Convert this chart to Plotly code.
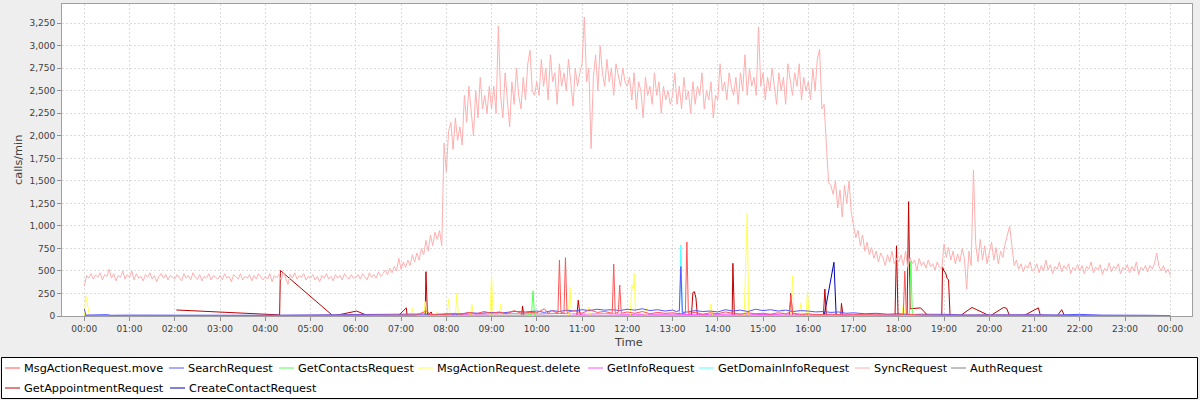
import pandas as pd
import plotly.graph_objects as go

# one day of request counts (calls/min)
DAY = pd.Timestamp("2012-06-13")

series_names = [
    "MsgActionRequest.move", "SearchRequest", "GetContactsRequest",
    "MsgActionRequest.delete", "GetInfoRequest", "GetDomainInfoRequest",
    "SyncRequest", "AuthRequest", "GetAppointmentRequest", "CreateContactRequest",
]
# JFreeChart default paint sequence
series_colors = [
    "#FF5555", "#5555FF", "#55FF55", "#FFFF55", "#FF55FF", "#55FFFF",
    "#FFAFAF", "#808080", "#C00000", "#0000C0",
]

# SyncRequest, one value every 3 minutes (20 per hour), 00:00 .. 24:00
sync_values = [
    330, 450, 420, 470, 410, 455, 430, 480, 400, 460, 440, 520, 420, 470, 390, 450, 430, 500, 410, 460,
    430, 500, 400, 470, 420, 440, 390, 460, 430, 480, 410, 450, 380, 440, 470, 420, 460, 400, 450, 430,
    410, 460, 430, 390, 470, 420, 450, 400, 480, 430, 410, 460, 390, 440, 420, 470, 400, 450, 430, 410,
    450, 400, 470, 420, 440, 380, 460, 430, 410, 470, 400, 440, 420, 460, 390, 450, 410, 470, 430, 400,
    440, 410, 470, 380, 450, 420, 460, 400, 490, 430, 350, 460, 420, 480, 410, 450, 430, 470, 400, 440,
    420, 460, 400, 440, 380, 450, 420, 470, 410, 440, 390, 460, 420, 450, 400, 470, 430, 410, 460, 420,
    430, 460, 410, 470, 440, 400, 480, 430, 460, 420, 490, 440, 470, 510, 460, 530, 480, 550, 500, 640,
    520, 600, 540, 620, 560, 680, 600, 700, 620, 750, 680, 840, 720, 900, 780, 930, 850, 950, 780, 1920,
    1600, 2050, 2150, 1850, 2200, 1950, 2100, 1900, 2450, 2150, 2550, 2300, 2000, 2500, 2200, 2650, 2300, 2450, 2250, 2550,
    2300, 2550, 2250, 3220, 2450, 2200, 2700, 2400, 2100, 2600, 2350, 2750, 2450, 2300, 2650, 2400, 2800, 2950, 2500, 2450,
    2600, 2450, 2850, 2550, 2750, 2400, 2900, 2600, 2700, 2350, 2800, 2550, 2700, 2500, 2850, 2600, 2330, 2750, 2550, 2700,
    2800, 3320, 2600, 2750, 1860, 2650, 2900, 2500, 3000, 2700, 2550, 2850, 2600, 2750, 2450, 2800, 2650, 2550, 2750, 2600,
    2550, 2650, 2400, 2700, 2300, 2600, 2500, 2200, 2650, 2450, 2550, 2350, 2700, 2450, 2600, 2250, 2550, 2400, 2500, 2350,
    2450, 2700, 2350, 2550, 2300, 2650, 2400, 2500, 2250, 2600, 2350, 2550, 2450, 2700, 2300, 2500, 2400, 2600, 2200, 2450,
    2400, 2800, 2500, 2600, 2400, 2700, 2550, 2450, 2650, 2350, 2700, 2500, 2900, 2450, 2750, 2550, 2650, 2450, 3210, 2550,
    2700, 2400, 2650, 2500, 2750, 2550, 2350, 2700, 2500, 2650, 2350, 2800, 2600, 2450, 2700, 2550, 2800, 2400, 2650, 2500,
    2600, 2400, 2750, 2500, 2850, 2960, 2300, 2350, 1900, 1480, 1450, 1350, 1500, 1200, 1400, 1100, 1450, 1250, 1500, 1150,
    1000, 870, 950, 780, 900, 720, 820, 680, 760, 640, 720, 600, 700, 650, 560, 680, 600, 720, 580, 640,
    600, 680, 560, 720, 540, 650, 580, 620, 500, 640, 560, 600, 530, 620, 550, 580, 510, 600, 540, 520,
    800, 650, 760, 620, 720, 580, 690, 600, 750, 640, 300, 720, 560, 1620, 800, 600, 850, 620, 780, 580,
    700, 820, 620, 760, 580, 720, 650, 800, 900, 1000, 780, 560, 620, 520, 580, 490, 560, 530, 600, 500,
    520, 580, 480, 560, 500, 620, 510, 570, 470, 550, 520, 600, 490, 560, 520, 580, 470, 540, 510, 570,
    500, 560, 470, 550, 520, 600, 480, 540, 510, 570, 460, 530, 500, 590, 490, 550, 520, 580, 470, 540,
    510, 570, 480, 550, 500, 600, 460, 540, 510, 560, 490, 560, 520, 580, 700, 550, 500, 560, 480, 520,
    450,
]

# the other series are sparse: sample times and values
move_times = [
    "00:00", "01:30", "03:00", "04:30", "06:00", "07:00", "07:20", "07:35", "07:37", "07:50",
    "08:00", "08:10", "08:20", "08:30", "08:40", "08:50", "09:00", "09:10", "09:20", "09:30",
    "09:40", "09:50", "10:00", "10:10", "10:15", "10:20", "10:28", "10:30", "10:32", "10:36",
    "10:38", "10:40", "10:50", "11:00", "11:10", "11:20", "11:30", "11:40", "11:42", "11:44",
    "11:48", "11:50", "11:52", "12:00", "12:10", "12:20", "12:30", "12:40", "12:50", "13:00",
    "13:10", "13:17", "13:19", "13:21", "13:30", "13:40", "13:50", "14:00", "14:10", "14:20",
    "14:30", "14:40", "14:50", "15:00", "15:10", "15:20", "15:30", "15:35", "15:37", "15:39",
    "15:50", "16:00", "16:10", "16:30", "16:50", "17:00", "17:30", "17:55", "18:00", "18:06",
    "18:08", "18:10", "18:30", "19:00", "20:00", "21:00", "22:00", "23:00", "24:00",
]
move_values = [
    0, 2, 1, 3, 2, 5, 10, 60, 15, 20,
    15, 30, 20, 40, 25, 50, 30, 45, 25, 60,
    30, 40, 35, 80, 30, 60, 30, 620, 40, 30,
    648, 40, 60, 30, 70, 40, 50, 30, 577, 30,
    40, 344, 30, 45, 30, 50, 25, 40, 30, 35,
    25, 30, 822, 30, 40, 20, 35, 25, 45, 30,
    20, 35, 25, 30, 20, 35, 25, 40, 230, 30,
    20, 25, 15, 20, 10, 15, 10, 5, 10, 20,
    500, 20, 10, 8, 10, 8, 5, 5, 3,
]

search_times = [
    "00:00", "00:02", "00:30", "00:35", "01:00", "02:00", "03:00", "04:00", "05:00", "05:30",
    "06:00", "06:30", "07:00", "07:30", "07:45", "08:00", "08:15", "08:30", "08:45", "09:00",
    "09:15", "09:30", "09:45", "10:00", "10:10", "10:20", "10:30", "10:40", "10:50", "11:00",
    "11:10", "11:20", "11:30", "11:40", "11:50", "12:00", "12:10", "12:20", "12:30", "12:40",
    "12:50", "13:00", "13:05", "13:09", "13:11", "13:13", "13:20", "13:30", "13:40", "13:50",
    "14:00", "14:10", "14:20", "14:30", "14:40", "14:50", "15:00", "15:10", "15:20", "15:30",
    "15:40", "15:50", "16:00", "16:10", "16:20", "16:30", "16:40", "16:50", "17:00", "17:15",
    "17:30", "17:45", "18:00", "18:15", "18:30", "18:45", "19:00", "19:30", "20:00", "20:30",
    "21:00", "21:30", "22:00", "22:30", "23:00", "23:30", "24:00",
]
search_values = [
    80, 10, 15, 8, 10, 8, 10, 8, 12, 15,
    12, 15, 18, 22, 15, 25, 20, 35, 30, 40,
    35, 50, 45, 55, 40, 60, 50, 65, 55, 70,
    60, 75, 65, 70, 60, 75, 65, 80, 60, 70,
    55, 65, 50, 60, 548, 40, 45, 60, 50, 55,
    45, 70, 55, 65, 50, 75, 60, 70, 55, 65,
    50, 60, 55, 45, 50, 40, 45, 30, 35, 25,
    30, 20, 25, 15, 20, 15, 18, 12, 15, 10,
    15, 12, 18, 10, 12, 8, 5,
]

contacts_times = [
    "00:00", "06:00", "07:30", "09:00", "09:45", "09:53", "09:55", "09:57", "10:30", "12:00",
    "14:00", "16:00", "18:00", "18:14", "18:16", "18:18", "19:00", "22:00", "24:00",
]
contacts_values = [0, 1, 3, 5, 8, 20, 280, 8, 5, 6, 4, 5, 3, 10, 610, 8, 3, 2, 1]

delete_times = [
    "00:00", "00:02", "00:07", "07:13", "07:15", "07:17", "07:30", "07:32", "07:34", "07:46",
    "07:48", "07:50", "08:01", "08:03", "08:05", "08:12", "08:14", "08:16", "08:32", "08:34",
    "08:36", "08:58", "09:00", "09:02", "09:10", "09:12", "09:14", "10:42", "10:44", "10:46",
    "11:07", "11:09", "11:11", "12:04", "12:06", "12:08", "12:09", "12:11", "12:23", "12:25",
    "12:27", "13:49", "13:51", "13:53", "14:35", "14:37", "14:39", "14:41", "15:24", "15:26",
    "15:28", "15:37", "15:39", "15:41", "15:48", "15:50", "15:52", "15:57", "15:59", "16:01",
    "18:04", "18:06", "18:08", "24:00",
]
delete_values = [
    0, 222, 0, 0, 85, 0, 0, 160, 0, 0,
    50, 0, 0, 190, 0, 0, 255, 0, 0, 130,
    0, 0, 455, 0, 0, 130, 0, 0, 318, 0,
    0, 100, 0, 0, 344, 300, 475, 0, 0, 85,
    0, 0, 135, 0, 0, 700, 1140, 0, 0, 80,
    0, 0, 445, 0, 0, 145, 0, 0, 275, 0,
    0, 130, 0, 0,
]

info_times = [
    "00:00", "01:00", "02:00", "03:00", "04:00", "05:00", "06:00", "07:00", "07:30", "08:00",
    "08:30", "09:00", "09:30", "10:00", "10:30", "11:00", "11:30", "12:00", "12:30", "13:00",
    "13:30", "14:00", "14:30", "15:00", "15:30", "16:00", "16:30", "17:00", "17:30", "18:00",
    "19:00", "20:00", "21:00", "22:00", "23:00", "24:00",
]
info_values = [
    5, 4, 5, 3, 4, 5, 6, 8, 12, 15,
    20, 18, 25, 22, 28, 20, 25, 18, 22, 20,
    15, 18, 22, 16, 20, 15, 12, 10, 8, 10,
    6, 5, 4, 5, 3, 4,
]

domain_times = ["00:00", "13:09", "13:11", "13:13", "24:00"]
domain_values = [0, 0, 788, 0, 0]

auth_times = ["00:00", "06:00", "08:00", "12:00", "16:00", "20:00", "24:00"]
auth_values = [1, 1, 3, 4, 3, 2, 1]

appointment_times = [
    "02:02", "04:19", "04:20", "05:30", "06:01", "06:17", "06:56", "07:07", "07:08", "07:32",
    "07:33", "07:35", "07:40", "07:42", "09:40", "09:41", "09:43", "10:53", "10:55", "10:57",
    "11:00", "13:25", "13:27", "13:29", "13:31", "13:33", "14:19", "14:20", "14:22", "15:35",
    "15:37", "15:39", "16:20", "16:22", "16:24", "16:43", "16:44", "16:46", "17:55", "17:57",
    "17:59", "18:11", "18:13", "18:15", "18:29", "18:39", "18:57", "18:58", "19:00", "19:02",
    "19:04", "19:06", "19:08", "19:21", "19:37", "20:01", "20:19", "20:23", "20:27", "20:45",
    "21:05", "21:08", "21:30", "21:36", "21:40",
]
appointment_values = [
    67, 12, 505, 0, 55, 0, 0, 90, 0, 0,
    492, 0, 45, 0, 0, 110, 0, 0, 175, 30,
    0, 0, 260, 270, 200, 0, 0, 585, 0, 0,
    255, 0, 0, 300, 0, 0, 140, 0, 0, 780,
    0, 0, 1270, 80, 90, 0, 0, 545, 500, 480,
    420, 400, 0, 0, 95, 0, 95, 85, 0, 0,
    90, 0, 0, 70, 0,
]

create_times = ["16:21", "16:34", "16:37"]
create_values = [0, 596, 0]

# tick labels on the time axis
hour_labels = ["%02d:00" % (h % 24) for h in range(25)]


def at(clock_list):
    out = []
    for s in clock_list:
        h, m = s.split(":")
        out.append(DAY + pd.Timedelta(hours=int(h), minutes=int(m)))
    return out


sync_times = pd.date_range(DAY, periods=len(sync_values), freq="3min")

series_data = [
    (at(move_times), move_values),
    (at(search_times), search_values),
    (at(contacts_times), contacts_values),
    (at(delete_times), delete_values),
    (at(info_times), info_values),
    (at(domain_times), domain_values),
    (list(sync_times), sync_values),
    (at(auth_times), auth_values),
    (at(appointment_times), appointment_values),
    (at(create_times), create_values),
]

fig = go.Figure()

# JFreeChart draws the last series first, so the first one ends on top
for idx in reversed(range(len(series_names))):
    xs, ys = series_data[idx]
    fig.add_trace(go.Scatter(
        x=xs,
        y=ys,
        mode="lines",
        name=series_names[idx],
        line=dict(color=series_colors[idx], width=1),
        showlegend=False,
    ))

# plot area in pixels
PL, PR, PT, PB = 62, 1192, 4, 316


def px_x(px):
    return (px - PL) / (PR - PL)


def px_y(py):
    return (PB - py) / (PB - PT)


FONT = "DejaVu Sans"
TICK_FONT = dict(family=FONT, size=9, color="#404040")
TITLE_FONT = dict(family=FONT, size=11.3, color="#404040")
GRID = "#DCDCDC"
OUTLINE = "#A0A0A0"

# hand-built legend box, JFreeChart style
shapes = [dict(
    type="rect", xref="paper", yref="paper",
    x0=px_x(1.5), x1=px_x(1197.5), y0=px_y(398.5), y1=px_y(357.5),
    line=dict(color="#000000", width=1), fillcolor="white", layer="above",
)]
annotations = []
legend_text_x = [23, 187, 297, 436, 606, 717, 873, 969, 23, 188]
legend_row_y = [368, 388]
for idx, name in enumerate(series_names):
    tx = legend_text_x[idx]
    ty = legend_row_y[0] if idx < 8 else legend_row_y[1]
    shapes.append(dict(
        type="line", xref="paper", yref="paper",
        x0=px_x(tx - 18), x1=px_x(tx - 3), y0=px_y(ty), y1=px_y(ty),
        line=dict(color=series_colors[idx], width=1), layer="above",
    ))
    annotations.append(dict(
        text=name, xref="paper", yref="paper", x=px_x(tx - 1), y=px_y(ty),
        xanchor="left", yanchor="middle", showarrow=False,
        font=dict(family=FONT, size=11.3, color="#000000"),
    ))

# axis titles placed where the reference has them
annotations.append(dict(
    text="Time", xref="paper", yref="paper", x=px_x(628), y=px_y(342),
    xanchor="center", yanchor="middle", showarrow=False, font=TITLE_FONT,
))
annotations.append(dict(
    text="calls/min", xref="paper", yref="paper", x=px_x(18), y=px_y(160),
    xanchor="center", yanchor="middle", showarrow=False, textangle=-90, font=TITLE_FONT,
))

x_start = DAY - pd.Timedelta(minutes=29.6)
x_end = DAY + pd.Timedelta(hours=24, minutes=28.8)
tick_times = [DAY + pd.Timedelta(hours=h) for h in range(25)]

fig.update_layout(
    width=1200,
    height=400,
    autosize=False,
    margin=dict(l=PL, r=1200 - PR, t=PT, b=400 - PB, pad=0),
    paper_bgcolor="#EEEEEE",
    plot_bgcolor="white",
    font=dict(family=FONT, size=11, color="#404040"),
    showlegend=False,
    shapes=shapes,
    annotations=annotations,
    xaxis=dict(
        type="date",
        range=[x_start, x_end],
        tickvals=tick_times,
        ticktext=hour_labels,
        tickfont=TICK_FONT,
        ticks="outside", ticklen=4, tickcolor="#909090",
        showgrid=True, gridcolor=GRID, griddash="2px,2px", gridwidth=1,
        showline=True, linecolor=OUTLINE, linewidth=1, mirror=True,
        zeroline=False,
        automargin=False,
    ),
    yaxis=dict(
        range=[0, 3464],
        dtick=250,
        tickformat=",d",
        tickfont=TICK_FONT,
        ticks="outside", ticklen=4, tickcolor="#909090",
        showgrid=True, gridcolor=GRID, griddash="2px,2px", gridwidth=1,
        showline=True, linecolor=OUTLINE, linewidth=1, mirror=True,
        zeroline=False,
        automargin=False,
    ),
)

# the page body has a default 8px margin; drop it so the figure fills the window
fig.write_html(
    "out.html",
    config={"displayModeBar": False},
    post_script="document.body.style.margin = '0px';",
)
